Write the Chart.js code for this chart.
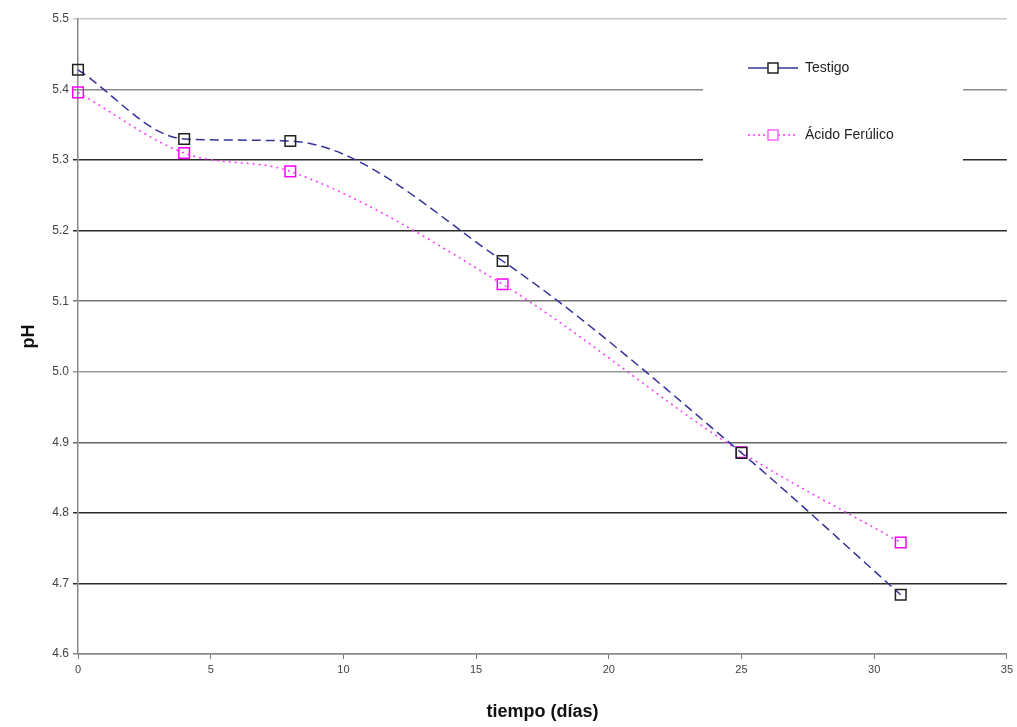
<!DOCTYPE html>
<html>
<head>
<meta charset="utf-8">
<script src="https://cdn.jsdelivr.net/npm/chart.js@4/dist/chart.umd.min.js"></script>
<style>
  html, body { margin: 0; padding: 0; background: #fff; }
  #wrap { width: 1017px; height: 727px; }
</style>
</head>
<body>
<div id="wrap"><canvas id="chart-ph"></canvas></div>
<script>
/* datos */
const seriesNames = ['Testigo', 'Ácido Ferúlico'];
const diasTestigo = [0, 4, 8, 16, 25, 31];
const phTestigo = [5.428, 5.330, 5.327, 5.157, 4.885, 4.684];
const diasFerulico = [0, 4, 8, 16, 25, 31];
const phFerulico = [5.396, 5.310, 5.284, 5.124, 4.886, 4.758];
const yTicks = [4.6, 4.7, 4.8, 4.9, 5.0, 5.1, 5.2, 5.3, 5.4, 5.5];
const xTicks = [0, 5, 10, 15, 20, 25, 30, 35];

// the scanned grid lines come out in uneven greys
const gridShades = ['#8a8a8a', '#2a2a2a', '#2a2a2a', '#666', '#999', '#777', '#2a2a2a', '#2a2a2a', '#8a8a8a', '#c8c8c8'];

const FONT = 'Liberation Sans, Arial, sans-serif';

const toPoints = (xs, ys) => xs.map((x, i) => ({ x, y: ys[i] }));

// legend drawn inside the plot, over a white box like the original
const insideLegend = {
  id: 'insideLegend',
  afterDatasetsDraw(chart) {
    const { ctx } = chart;
    ctx.save();
    ctx.fillStyle = '#fff';
    ctx.fillRect(703, 30, 260, 146);
    const rows = [
      { y: 68, color: '#333399', dash: [], marker: '#222', label: seriesNames[0] },
      { y: 135, color: '#ff33ff', dash: [2, 3], marker: '#ff66ff', label: seriesNames[1] },
    ];
    rows.forEach(r => {
      ctx.strokeStyle = r.color;
      ctx.lineWidth = 1.5;
      ctx.setLineDash(r.dash);
      ctx.beginPath();
      ctx.moveTo(748, r.y);
      ctx.lineTo(798, r.y);
      ctx.stroke();
      ctx.setLineDash([]);
      ctx.fillStyle = '#fff';
      ctx.fillRect(768, r.y - 5, 10, 10);
      ctx.strokeStyle = r.marker;
      ctx.strokeRect(768, r.y - 5, 10, 10);
      ctx.fillStyle = '#222';
      ctx.font = '14px ' + FONT;
      ctx.textBaseline = 'middle';
      ctx.fillText(r.label, 805, r.y);
    });
    ctx.restore();
  }
};

const lineBase = {
  borderWidth: 1.5,
  cubicInterpolationMode: 'monotone',
  pointStyle: 'rect',
  pointRadius: 7.5,
  pointBorderWidth: 1.5,
  pointBackgroundColor: 'rgba(255,255,255,0)',
  fill: false,
  clip: false,
};

new Chart(document.getElementById('chart-ph'), {
  type: 'line',
  data: {
    datasets: [{
      ...lineBase,
      label: seriesNames[0],
      data: toPoints(diasTestigo, phTestigo),
      borderColor: '#333399',
      borderDash: [9, 5],
      pointBorderColor: '#222',
    }, {
      ...lineBase,
      label: seriesNames[1],
      data: toPoints(diasFerulico, phFerulico),
      borderColor: '#ff33ff',
      borderDash: [2, 4],
      pointBorderColor: '#ff00ff',
    }]
  },
  options: {
    responsive: true,
    maintainAspectRatio: false,
    animation: false,
    layout: { padding: { top: 19, right: 10, left: 14, bottom: 0 } },
    plugins: {
      legend: { display: false },
      tooltip: { enabled: false }
    },
    scales: {
      x: {
        type: 'linear',
        min: 0,
        max: 35,
        afterBuildTicks: axis => { axis.ticks = xTicks.map(v => ({ value: v })); },
        afterFit: axis => { axis.height = 73; },
        grid: { drawOnChartArea: false, drawTicks: true, tickLength: 5, color: '#777' },
        border: { color: '#888', width: 1.5 },
        ticks: { font: { size: 11, family: FONT }, color: '#444', padding: 4 },
        title: {
          display: true,
          text: 'tiempo (días)',
          font: { size: 18, weight: 'bold', family: FONT },
          color: '#111',
          padding: { top: 16 }
        }
      },
      y: {
        min: 4.6,
        max: 5.5,
        afterBuildTicks: axis => { axis.ticks = yTicks.map(v => ({ value: v })); },
        afterFit: axis => { axis.width = 64; },
        grid: {
          color: c => gridShades[c.index] || '#777',
          lineWidth: 1.5,
          tickLength: 5
        },
        border: { color: '#888', width: 1.5 },
        ticks: {
          font: { size: 12, family: FONT },
          color: '#444',
          padding: 4,
          callback: v => v.toFixed(1)
        },
        title: {
          display: true,
          text: 'pH',
          font: { size: 18, weight: 'bold', family: FONT },
          color: '#111',
          padding: { bottom: 14 }
        }
      }
    }
  },
  plugins: [insideLegend]
});
</script>
</body>
</html>
